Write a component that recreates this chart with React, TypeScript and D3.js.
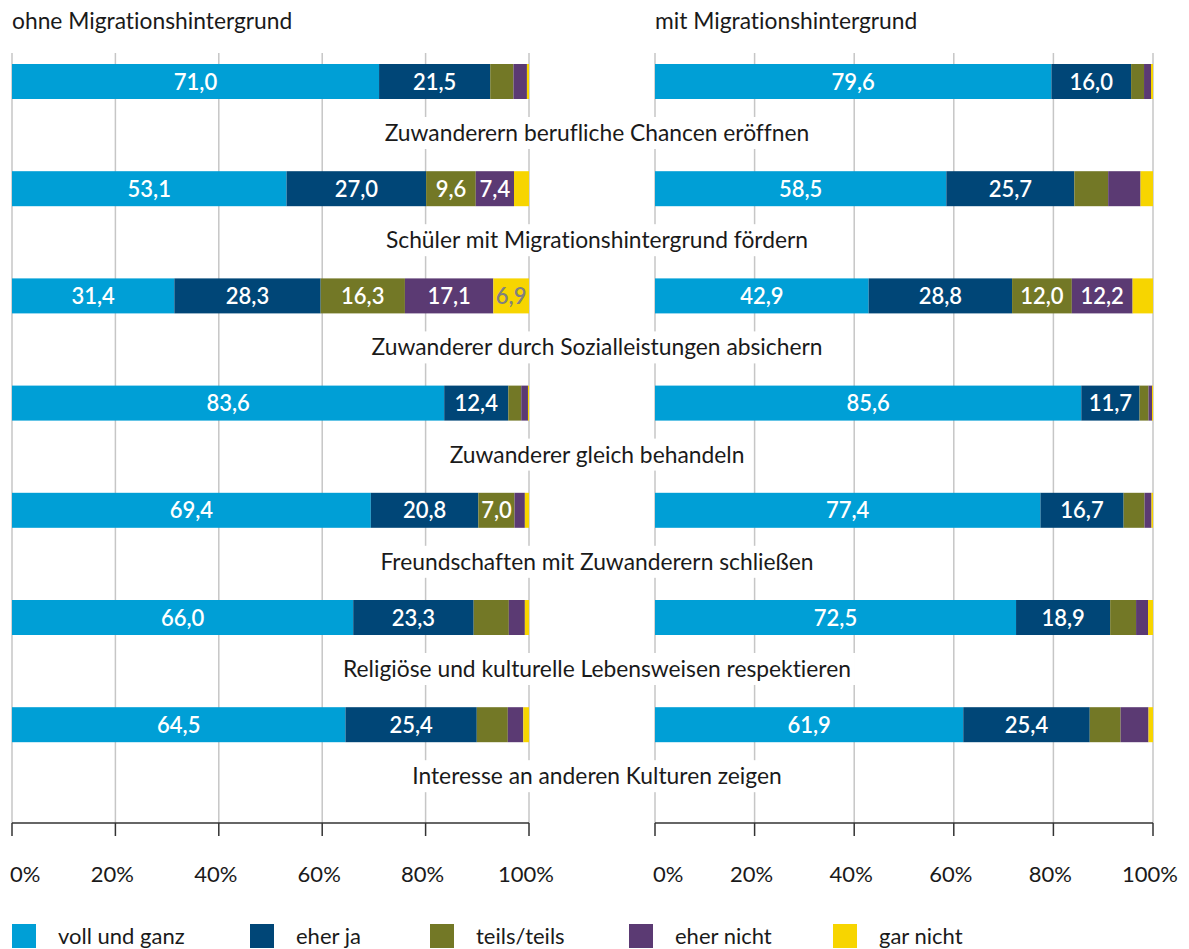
import React, { useEffect, useRef } from "react";
import * as d3 from "d3";

const categories = [
  "Zuwanderern berufliche Chancen eröffnen",
  "Schüler mit Migrationshintergrund fördern",
  "Zuwanderer durch Sozialleistungen absichern",
  "Zuwanderer gleich behandeln",
  "Freundschaften mit Zuwanderern schließen",
  "Religiöse und kulturelle Lebensweisen respektieren",
  "Interesse an anderen Kulturen zeigen",
];

const seriesNames = ["voll und ganz", "eher ja", "teils/teils", "eher nicht", "gar nicht"];
const seriesColors = ["#009fd6", "#004677", "#737826", "#5b3a73", "#f7d500"];
const labelColors = ["#ffffff", "#ffffff", "#ffffff", "#ffffff", "#808080"];

// ohne Migrationshintergrund
const vollOhne = [71.0, 53.1, 31.4, 83.6, 69.4, 66.0, 64.5];
const eherJaOhne = [21.5, 27.0, 28.3, 12.4, 20.8, 23.3, 25.4];
const teilsOhne = [4.5, 9.6, 16.3, 2.5, 7.0, 6.8, 6.0];
const eherNichtOhne = [2.6, 7.4, 17.1, 1.3, 2.0, 3.1, 3.0];
const garNichtOhne = [0.4, 2.9, 6.9, 0.2, 0.8, 0.8, 1.1];

// mit Migrationshintergrund
const vollMit = [79.6, 58.5, 42.9, 85.6, 77.4, 72.5, 61.9];
const eherJaMit = [16.0, 25.7, 28.8, 11.7, 16.7, 18.9, 25.4];
const teilsMit = [2.6, 6.8, 12.0, 1.8, 4.2, 5.2, 6.2];
const eherNichtMit = [1.4, 6.5, 12.2, 0.7, 1.4, 2.4, 5.6];
const garNichtMit = [0.4, 2.5, 4.1, 0.2, 0.3, 1.0, 0.9];

const panelTitles = ["ohne Migrationshintergrund", "mit Migrationshintergrund"];
const tickValues = [0, 20, 40, 60, 80, 100];
const tickLabels = ["0%", "20%", "40%", "60%", "80%", "100%"];
const labelThreshold = 6.9;

const W = 1189;
const H = 949;
const FONT = "Lato, 'Noto Sans', sans-serif";

export default function App() {
  const ref = useRef<SVGSVGElement>(null);

  useEffect(() => {
    const svg = d3.select(ref.current);
    svg.selectAll("*").remove();
    svg.style("font-variant-ligatures", "none").style("font-feature-settings", "'liga' 0, 'clig' 0");

    const panels = [
      { title: panelTitles[0], range: [12, 529], series: [vollOhne, eherJaOhne, teilsOhne, eherNichtOhne, garNichtOhne] },
      { title: panelTitles[1], range: [655, 1153], series: [vollMit, eherJaMit, teilsMit, eherNichtMit, garNichtMit] },
    ];

    const y = d3.scaleBand<string>().domain(categories).range([53, 53 + 7 * 107.2]).padding(0);
    const barOff = 11;
    const barH = 35;
    const labelOff = 80;
    const gridTop = 53;
    const axisY = 823;

    const gGrid = svg.append("g");
    const gLabels = svg.append("g");
    const gBars = svg.append("g");

    panels.forEach((p) => {
      const x = d3.scaleLinear().domain([0, 100]).range(p.range as [number, number]);

      gGrid
        .selectAll(null)
        .data(tickValues)
        .enter()
        .append("line")
        .attr("x1", (d) => x(d))
        .attr("x2", (d) => x(d))
        .attr("y1", gridTop)
        .attr("y2", axisY)
        .attr("stroke", "#c6c6c6")
        .attr("stroke-width", 1.5);

      svg
        .append("text")
        .attr("x", x(0))
        .attr("y", 29)
        .attr("font-family", FONT)
        .attr("font-size", 22.8)
        .attr("fill", "#1a1a1a")
        .text(p.title);

      const rows = categories.map((c, i) => {
        let acc = 0;
        return p.series.map((s, k) => {
          const v = s[i];
          const seg = { cat: c, k, v, x0: acc, x1: acc + v };
          acc += v;
          return seg;
        });
      });
      const segs = rows.flat();

      gBars
        .selectAll(null)
        .data(segs)
        .enter()
        .append("rect")
        .attr("x", (d) => x(d.x0))
        .attr("width", (d) => Math.max(0, x(d.x1) - x(d.x0)))
        .attr("y", (d) => (y(d.cat) as number) + barOff)
        .attr("height", barH)
        .attr("fill", (d) => seriesColors[d.k]);

      gBars
        .selectAll(null)
        .data(segs.filter((d) => d.v >= labelThreshold))
        .enter()
        .append("text")
        .attr("x", (d) => (x(d.x0) + x(d.x1)) / 2)
        .attr("y", (d) => (y(d.cat) as number) + barOff + barH / 2 + 8)
        .attr("text-anchor", "middle")
        .attr("font-family", FONT)
        .attr("font-size", 22)
        .attr("font-weight", 600)
        .attr("fill", (d) => labelColors[d.k])
        .text((d) => d3.format(".1f")(d.v).replace(".", ","));

      const gAxis = svg.append("g");
      gAxis
        .append("line")
        .attr("x1", x(0))
        .attr("x2", x(100))
        .attr("y1", axisY)
        .attr("y2", axisY)
        .attr("stroke", "#333")
        .attr("stroke-width", 1.5);
      gAxis
        .selectAll(null)
        .data(tickValues)
        .enter()
        .append("line")
        .attr("x1", (d) => x(d))
        .attr("x2", (d) => x(d))
        .attr("y1", axisY)
        .attr("y2", axisY + 13)
        .attr("stroke", "#333")
        .attr("stroke-width", 1.5);
      gAxis
        .selectAll(null)
        .data(tickValues)
        .enter()
        .append("text")
        .attr("x", (d, i) => (i === 0 ? x(d) - 2 : x(d) - 3))
        .attr("y", 882)
        .attr("text-anchor", (d, i) => (i === 0 ? "start" : "middle"))
        .attr("font-family", FONT)
        .attr("font-size", 22)
        .attr("fill", "#1a1a1a")
        .text((d, i) => tickLabels[i]);
    });

    const cx = 597;
    categories.forEach((c) => {
      const cy = (y(c) as number) + labelOff;
      const rect = gLabels.append("rect").attr("fill", "#ffffff");
      const t = gLabels
        .append("text")
        .attr("x", cx)
        .attr("y", cy + 8)
        .attr("text-anchor", "middle")
        .attr("font-family", FONT)
        .attr("font-size", 22.8)
        .attr("fill", "#1a1a1a")
        .text(c);
      const bb = (t.node() as SVGTextElement).getBBox();
      rect
        .attr("x", bb.x - 4)
        .attr("width", bb.width + 8)
        .attr("y", cy - 16)
        .attr("height", 32);
    });

    const legendX = [12, 250, 430, 629, 833];
    const lg = svg.append("g");
    seriesNames.forEach((n, i) => {
      lg.append("rect")
        .attr("x", legendX[i])
        .attr("y", 924)
        .attr("width", 24)
        .attr("height", 24)
        .attr("fill", seriesColors[i]);
      lg.append("text")
        .attr("x", legendX[i] + 46)
        .attr("y", 944)
        .attr("font-family", FONT)
        .attr("font-size", 22)
        .attr("fill", "#1a1a1a")
        .text(n);
    });
  }, []);

  return (
    <svg
      ref={ref}
      width={W}
      height={H}
      style={{ position: "absolute", left: 0, top: 0, background: "#fff" }}
    />
  );
}
